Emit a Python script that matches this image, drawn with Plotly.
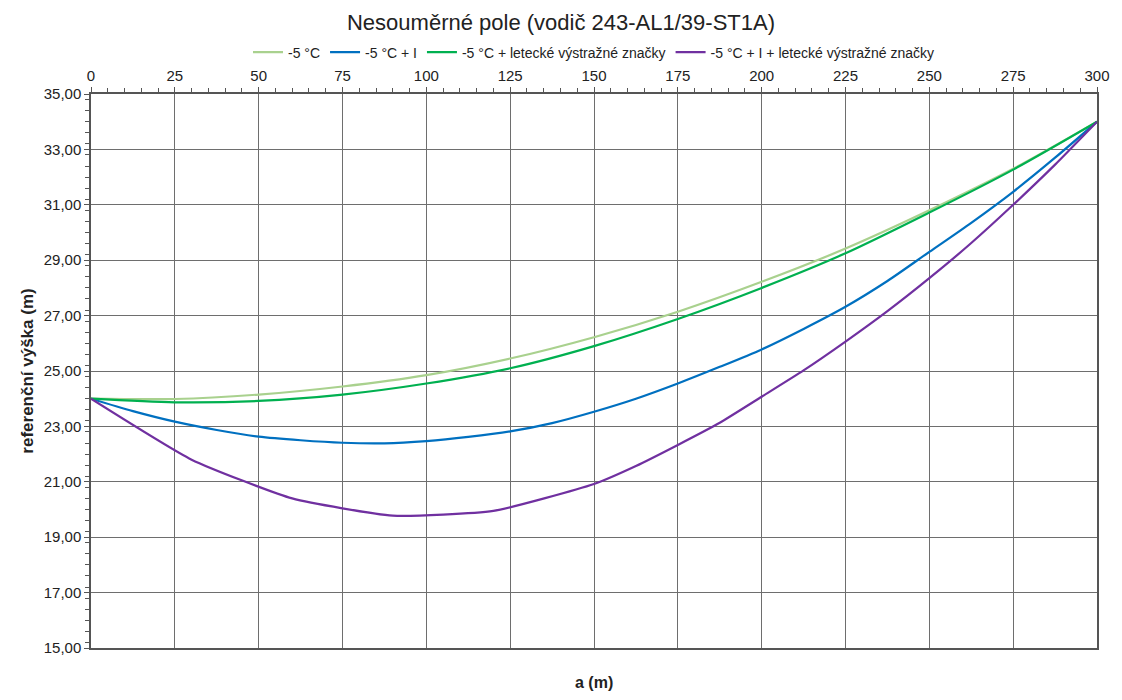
import plotly.graph_objects as go

# Data
a_smooth = [0, 25, 50, 75, 100, 125, 150, 175, 200, 225, 250, 275, 300]
h_minus5 = [24.0, 23.99, 24.15, 24.44, 24.85, 25.45, 26.22, 27.14, 28.22, 29.42, 30.8, 32.3, 34.0]
h_minus5_ice_marks = [24.0, 23.87, 23.92, 24.15, 24.55, 25.1, 25.9, 26.88, 28.0, 29.25, 30.72, 32.27, 34.0]

a_blue = [0, 12.5, 25, 37.5, 50, 62.5, 75, 87.5, 100, 112.5, 125, 137.5, 150, 162.5,
          175, 187.5, 200, 212.5, 225, 237.5, 250, 262.5, 275, 287.5, 300]
h_minus5_I = [24.0, 23.55, 23.17, 22.87, 22.63, 22.5, 22.41, 22.39, 22.47, 22.62, 22.82, 23.12,
              23.53, 24.0, 24.55, 25.15, 25.78, 26.52, 27.32, 28.25, 29.3, 30.35, 31.47, 32.7, 34.0]

a_purple = [0, 30, 60, 90, 120, 150, 162.5, 175, 187.5, 200, 212.5, 225, 237.5, 250, 262.5, 275, 287.5, 300]
h_minus5_I_marks = [24.0, 21.8, 20.4, 19.78, 19.95, 20.92, 21.57, 22.33, 23.13, 24.07, 25.02, 26.06,
                    27.16, 28.35, 29.62, 31.0, 32.45, 34.0]

names = ["-5 °C", "-5 °C + I", "-5 °C + letecké výstražné značky", "-5 °C + I + letecké výstražné značky"]
colors = ["#a9d18e", "#0070c0", "#00b050", "#7030a0"]

fig = go.Figure()
fig.add_trace(go.Scatter(x=a_smooth, y=h_minus5, mode="lines", name=names[0],
                         line=dict(color=colors[0], width=2.2, shape="spline", smoothing=0.8)))
fig.add_trace(go.Scatter(x=a_blue, y=h_minus5_I, mode="lines", name=names[1],
                         line=dict(color=colors[1], width=2.2, shape="spline", smoothing=0.8)))
fig.add_trace(go.Scatter(x=a_smooth, y=h_minus5_ice_marks, mode="lines", name=names[2],
                         line=dict(color=colors[2], width=2.2, shape="spline", smoothing=0.8)))
fig.add_trace(go.Scatter(x=a_purple, y=h_minus5_I_marks, mode="lines", name=names[3],
                         line=dict(color=colors[3], width=2.2, shape="spline", smoothing=0.5)))

font_family = "Liberation Sans, Arial, sans-serif"

fig.update_layout(
    width=1122, height=700,
    paper_bgcolor="white", plot_bgcolor="white",
    margin=dict(l=91, r=18, t=94, b=52),
    separators=", ",
    font=dict(family=font_family, size=15, color="#222"),
    title=dict(text="Nesouměrné pole (vodič 243-AL1/39-ST1A)", x=0.5, xanchor="center",
               y=1 - 22 / 700, yanchor="middle", yref="container",
               font=dict(size=22, color="#222", family=font_family)),
    legend=dict(orientation="h", x=0.5, xanchor="center", y=1.075, yanchor="middle",
                font=dict(size=14), bgcolor="rgba(0,0,0,0)", itemwidth=30),
    showlegend=True,
)

fig.update_xaxes(
    side="top", range=[0, 300], dtick=25, tick0=0,
    showgrid=True, gridcolor="#6e6e6e", gridwidth=1,
    showline=True, linecolor="#555", linewidth=1.5, mirror=True,
    ticks="outside", ticklen=5, tickcolor="#555",
    minor=dict(dtick=5, ticks="outside", ticklen=4, tickcolor="#555", showgrid=False),
    zeroline=False, tickfont=dict(size=15),
)
fig.update_yaxes(
    range=[15, 35], dtick=2, tick0=15, tickformat=".2f",
    showgrid=True, gridcolor="#6e6e6e", gridwidth=1,
    showline=True, linecolor="#555", linewidth=1.5, mirror=True,
    ticks="outside", ticklen=5, tickcolor="#555",
    minor=dict(dtick=0.4, ticks="outside", ticklen=4, tickcolor="#555", showgrid=False),
    zeroline=False, tickfont=dict(size=15),
    title=dict(text="<b>referenční výška (m)</b>", font=dict(size=17), standoff=6),
)

fig.add_annotation(text="<b>a (m)</b>", xref="paper", yref="paper", x=0.5, y=-0.062,
                   xanchor="center", yanchor="middle", showarrow=False, font=dict(size=16))

fig.write_html("out.html")
